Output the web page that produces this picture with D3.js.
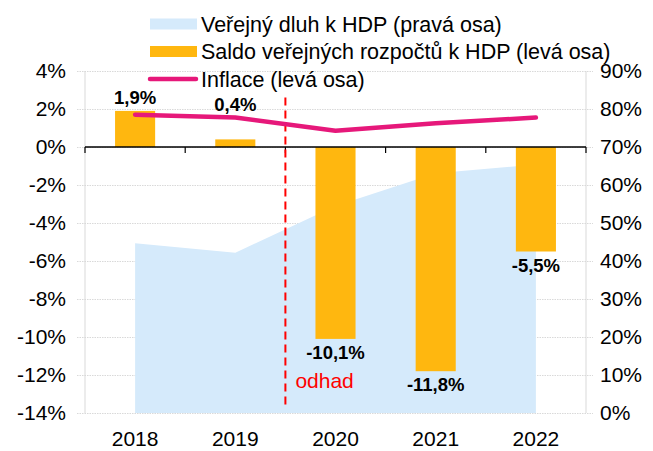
<!DOCTYPE html>
<html>
<head>
<meta charset="utf-8">
<script src="https://cdn.jsdelivr.net/npm/d3@7"></script>
<style>
  body { margin: 0; background: #fff; }
  svg { font-family: "Liberation Sans", Arial, sans-serif; }
</style>
</head>
<body>
<svg id="chart" width="653" height="451"></svg>
<script>
const years = ["2018", "2019", "2020", "2021", "2022"];
const saldo = [1.9, 0.4, -10.1, -11.8, -5.5];        // levá osa
const inflace = [1.7, 1.55, 0.85, 1.25, 1.55];       // levá osa
const dluh = [44.7, 42.2, 54.5, 63.1, 65.4];          // pravá osa
const leftTicks = d3.range(-14, 5, 2);
const rightTicks = d3.range(0, 91, 10);
const legendItems = [
  { label: "Veřejný dluh k HDP (pravá osa)", type: "area" },
  { label: "Saldo veřejných rozpočtů k HDP (levá osa)", type: "bar" },
  { label: "Inflace (levá osa)", type: "line" }
];

const colors = { area: "#d5eafb", bar: "#ffb70f", line: "#e6187a", grid: "#d9d9d9" };
const plot = { left: 85, right: 586, top: 71, bottom: 413 };
const axisFont = 21;

const svg = d3.select("#chart");

const x = d3.scaleBand()
  .domain(years)
  .range([plot.left, plot.right])
  .paddingInner(0.6)
  .paddingOuter(0.3);

const yL = d3.scaleLinear().domain([-14, 4]).range([plot.bottom, plot.top]);
const yR = d3.scaleLinear().domain([0, 90]).range([plot.bottom, plot.top]);
const cx = d => x(d) + x.bandwidth() / 2;

const rows = years.map((year, i) => ({ year, saldo: saldo[i], inflace: inflace[i], dluh: dluh[i] }));

// gridlines
svg.append("g")
  .attr("transform", `translate(${plot.left - 8},0)`)
  .call(d3.axisLeft(yL).tickValues(leftTicks).tickSize(-(plot.right - plot.left + 15)).tickFormat(""))
  .call(g => g.select(".domain").remove())
  .call(g => g.selectAll("line").attr("stroke", colors.grid).attr("stroke-dasharray", "1.5,1"));

// axis frame lines
svg.selectAll("line.frame")
  .data([plot.left, plot.right])
  .join("line")
  .attr("class", "frame")
  .attr("x1", d => d).attr("x2", d => d)
  .attr("y1", plot.top).attr("y2", plot.bottom)
  .attr("stroke", colors.grid);

// debt area
const area = d3.area()
  .x(d => cx(d.year))
  .y0(yR(0))
  .y1(d => yR(d.dluh));

svg.append("path")
  .datum(rows)
  .attr("d", area)
  .attr("fill", colors.area);

// saldo bars
svg.selectAll("rect.bar")
  .data(rows)
  .join("rect")
  .attr("class", "bar")
  .attr("x", d => x(d.year))
  .attr("width", x.bandwidth())
  .attr("y", d => yL(Math.max(0, d.saldo)))
  .attr("height", d => Math.abs(yL(d.saldo) - yL(0)))
  .attr("fill", colors.bar);

// zero line with category ticks
const y0 = yL(0);
svg.append("line")
  .attr("x1", plot.left).attr("x2", plot.right)
  .attr("y1", y0).attr("y2", y0)
  .attr("stroke", "#000").attr("stroke-width", 1.3);

svg.selectAll("line.ctick")
  .data(d3.range(years.length + 1))
  .join("line")
  .attr("class", "ctick")
  .attr("x1", i => plot.left + i * x.step())
  .attr("x2", i => plot.left + i * x.step())
  .attr("y1", y0).attr("y2", y0 + 6)
  .attr("stroke", "#000").attr("stroke-width", 1.2);

// estimate divider
const divX = x("2020") - x.step() * x.paddingInner() / 2;
svg.append("line")
  .attr("x1", divX).attr("x2", divX)
  .attr("y1", yL(2.6)).attr("y2", yL(-13.6))
  .attr("stroke", "#ff0000").attr("stroke-width", 2)
  .attr("stroke-dasharray", "8,5");

svg.append("text")
  .attr("x", divX + 10)
  .attr("y", yL(-12.7))
  .attr("fill", "#ff0000")
  .attr("font-size", 21)
  .text("odhad");

// inflation line
const line = d3.line()
  .x(d => cx(d.year))
  .y(d => yL(d.inflace));

svg.append("path")
  .datum(rows)
  .attr("d", line)
  .attr("fill", "none")
  .attr("stroke", colors.line)
  .attr("stroke-width", 4.5)
  .attr("stroke-linecap", "round")
  .attr("stroke-linejoin", "round");

// bar labels
const fmt = v => v.toFixed(1).replace(".", ",") + "%";
svg.selectAll("text.vlabel")
  .data(rows)
  .join("text")
  .attr("class", "vlabel")
  .attr("x", d => cx(d.year))
  .attr("y", d => d.saldo >= 0
    ? Math.min(yL(d.saldo), yL(d.inflace)) - 7
    : yL(d.saldo) + 20)
  .attr("text-anchor", "middle")
  .attr("font-size", 18.5)
  .attr("font-weight", "bold")
  .attr("fill", "#000")
  .text(d => fmt(d.saldo));

// left axis labels
svg.append("g")
  .attr("transform", `translate(${plot.left - 8},0)`)
  .call(d3.axisLeft(yL).tickValues(leftTicks).tickSize(0).tickPadding(11).tickFormat(d => d + "%"))
  .call(g => g.select(".domain").remove())
  .call(g => g.selectAll("text").attr("font-size", axisFont).attr("font-family", "Liberation Sans, Arial, sans-serif").attr("fill", "#000"));

// right axis labels
svg.append("g")
  .attr("transform", `translate(${plot.right},0)`)
  .call(d3.axisRight(yR).tickValues(rightTicks).tickSize(0).tickPadding(14).tickFormat(d => d + "%"))
  .call(g => g.select(".domain").remove())
  .call(g => g.selectAll("text").attr("font-size", axisFont).attr("font-family", "Liberation Sans, Arial, sans-serif").attr("fill", "#000"));

// year labels
svg.append("g")
  .attr("transform", `translate(0,${plot.bottom})`)
  .call(d3.axisBottom(x).tickSize(0).tickPadding(18))
  .call(g => g.select(".domain").remove())
  .call(g => g.selectAll("text").attr("font-size", axisFont).attr("font-family", "Liberation Sans, Arial, sans-serif").attr("fill", "#000"));

// legend
const legend = svg.append("g").attr("transform", "translate(150,0)");
const item = legend.selectAll("g")
  .data(legendItems)
  .join("g")
  .attr("transform", (d, i) => `translate(0,${24 + i * 27.5})`);

item.filter(d => d.type !== "line")
  .append("rect")
  .attr("x", 0).attr("y", -5.5)
  .attr("width", 47).attr("height", 11)
  .attr("fill", d => d.type === "area" ? colors.area : colors.bar);

item.filter(d => d.type === "line")
  .append("line")
  .attr("x1", 0).attr("x2", 46)
  .attr("stroke", colors.line)
  .attr("stroke-width", 4.5)
  .attr("stroke-linecap", "round");

item.append("text")
  .attr("x", 51)
  .attr("y", 7.5)
  .attr("font-size", 21.5)
  .attr("fill", "#000")
  .text(d => d.label);
</script>
</body>
</html>
